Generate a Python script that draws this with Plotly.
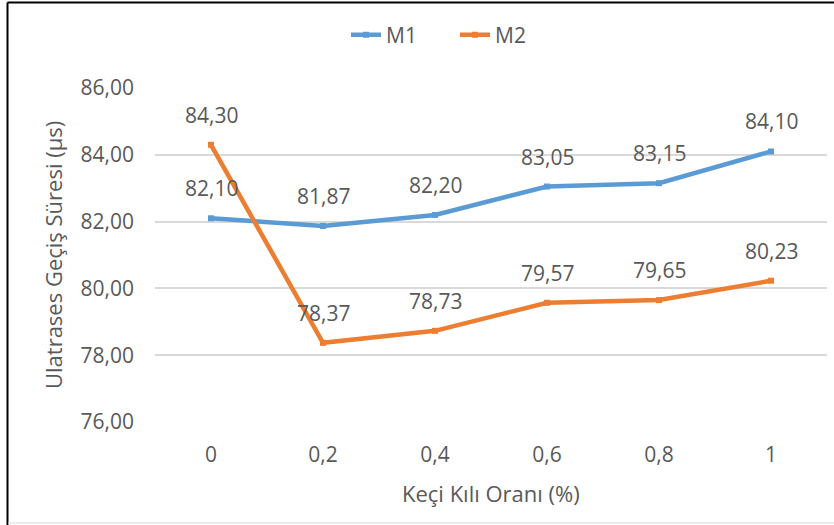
import plotly.graph_objects as go

# Goat hair ratio categories and ultrasonic pulse transit times (µs)
categories = ["0", "0,2", "0,4", "0,6", "0,8", "1"]
m1_values = [82.10, 81.87, 82.20, 83.05, 83.15, 84.10]
m2_values = [84.30, 78.37, 78.73, 79.57, 79.65, 80.23]
y_ticks = [76, 78, 80, 82, 84, 86]

BLUE = "#5B9BD5"
ORANGE = "#ED7D31"
TEXT = "#595959"
GRID = "#D9D9D9"
FONT = "Open Sans"
FSIZE = 21
TITLE_SIZE = 22

W, H = 834, 525
L, R, T, B = 155, 7, 88, 103
plot_w = W - L - R
plot_h = H - T - B


def px_x(px):
    return (px - L) / plot_w


def px_y(py):
    return (H - B - py) / plot_h


def fmt(v):
    return f"{v:.2f}".replace(".", ",")


fig = go.Figure()
for name, vals, color in [("M1", m1_values, BLUE), ("M2", m2_values, ORANGE)]:
    fig.add_trace(go.Scatter(
        x=categories, y=vals, name=name, mode="lines+markers",
        line=dict(color=color, width=4.5),
        marker=dict(symbol="square", size=6, color=color),
    ))

# value labels above every point (category index used as x position)
annotations = []
for vals in (m1_values, m2_values):
    for i, v in enumerate(vals):
        annotations.append(dict(
            x=i, y=v, xref="x", yref="y", text=fmt(v), showarrow=False,
            yshift=30, font=dict(family=FONT, size=FSIZE, color=TEXT),
        ))

annotations.append(dict(
    x=px_x(53), y=0.5, xref="paper", yref="paper", textangle=-90,
    text="Ulatrases Geçiş Süresi (µs)", showarrow=False,
    xanchor="center", yanchor="middle",
    font=dict(family=FONT, size=TITLE_SIZE, color=TEXT),
))
annotations.append(dict(
    x=0.5, y=px_y(493), xref="paper", yref="paper",
    text="Keçi Kılı Oranı (%)", showarrow=False,
    xanchor="center", yanchor="middle",
    font=dict(family=FONT, size=TITLE_SIZE, color=TEXT),
))

shapes = [
    dict(type="line", xref="paper", yref="paper",
         x0=px_x(7.5), x1=px_x(W + 5), y0=px_y(2.5), y1=px_y(2.5),
         line=dict(color="black", width=2)),
    dict(type="line", xref="paper", yref="paper",
         x0=px_x(7.5), x1=px_x(7.5), y0=px_y(2.5), y1=px_y(H + 5),
         line=dict(color="black", width=2)),
    dict(type="line", xref="paper", yref="paper",
         x0=px_x(8), x1=px_x(W + 5), y0=px_y(523), y1=px_y(523),
         line=dict(color=GRID, width=1)),
]

fig.update_layout(
    width=W, height=H,
    margin=dict(l=L, r=R, t=T, b=B),
    paper_bgcolor="white", plot_bgcolor="white",
    separators=",.",
    font=dict(family=FONT, size=FSIZE, color=TEXT),
    showlegend=True,
    legend=dict(orientation="h", x=px_x(455), y=px_y(35),
                xanchor="center", yanchor="middle",
                font=dict(family=FONT, size=FSIZE, color=TEXT),
                entrywidth=64, bgcolor="rgba(0,0,0,0)"),
    annotations=annotations,
    shapes=shapes,
)
fig.update_xaxes(
    type="category", range=[-0.5, 5.5], showgrid=False, zeroline=False,
    showline=False, ticks="", ticklabelstandoff=18,
    tickfont=dict(family=FONT, size=FSIZE, color=TEXT),
)
fig.update_yaxes(
    range=[76, 86], tickvals=y_ticks, tickformat=".2f",
    showgrid=True, gridcolor=GRID, gridwidth=1.5, zeroline=False,
    showline=False, ticks="", ticklabelstandoff=20,
    tickfont=dict(family=FONT, size=FSIZE, color=TEXT),
)

fig.write_html("out.html")
